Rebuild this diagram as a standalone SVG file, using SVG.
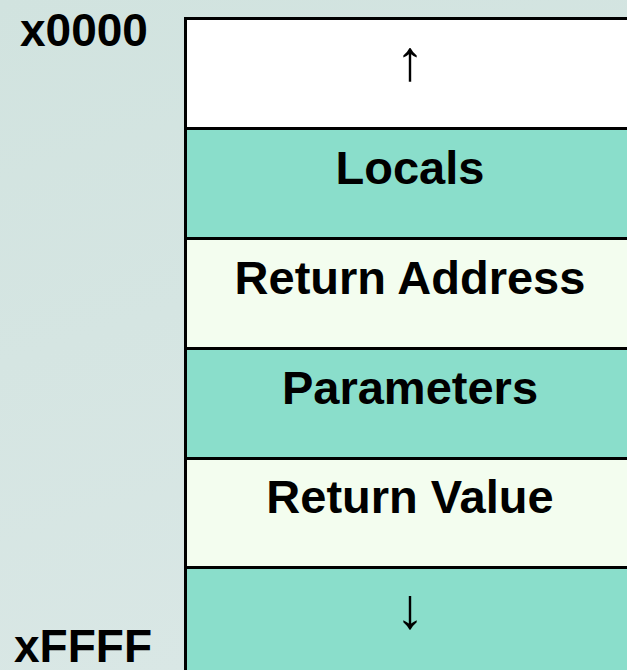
<svg xmlns="http://www.w3.org/2000/svg" width="627" height="670" viewBox="0 0 627 670">
  <defs>
    <linearGradient id="bg" x1="0" y1="0" x2="0.3" y2="1">
      <stop offset="0" stop-color="#d1e3df"/>
      <stop offset="1" stop-color="#d9e7e5"/>
    </linearGradient>
  </defs>
  <style>
    .cell { stroke: #000; stroke-width: 3; }
    .teal { fill: #8adecb; }
    .pale { fill: #f3fdef; }
    .white { fill: #ffffff; }
    .lbl { font-family: "Liberation Sans", Arial, sans-serif; font-weight: bold; font-size: 47px; fill: #000; text-anchor: middle; }
    .addr { font-family: "Liberation Sans", Arial, sans-serif; font-weight: bold; font-size: 46px; fill: #000; }
    .arrow { font-family: "Liberation Sans", Arial, sans-serif; font-size: 57px; fill: #000; text-anchor: middle; }
  </style>
  <rect width="627" height="670" fill="url(#bg)"/>

  <g id="addr-top"><text class="addr" x="20" y="46">x0000</text></g>
  <g id="addr-bottom"><text class="addr" x="14" y="662">xFFFF</text></g>

  <g id="free-top">
    <rect class="cell white" x="185.5" y="18.5" width="460" height="110"/>
    <text class="arrow" x="410" y="80">↑</text>
  </g>
  <g id="locals">
    <rect class="cell teal" x="185.5" y="128.5" width="460" height="110"/>
    <text class="lbl" x="410" y="184">Locals</text>
  </g>
  <g id="return-address">
    <rect class="cell pale" x="185.5" y="238.5" width="460" height="110"/>
    <text class="lbl" x="410" y="294">Return Address</text>
  </g>
  <g id="parameters">
    <rect class="cell teal" x="185.5" y="348.5" width="460" height="110"/>
    <text class="lbl" x="410" y="404">Parameters</text>
  </g>
  <g id="return-value">
    <rect class="cell pale" x="185.5" y="458.5" width="460" height="109"/>
    <text class="lbl" x="410" y="513">Return Value</text>
  </g>
  <g id="free-bottom">
    <rect class="cell teal" x="185.5" y="567.5" width="460" height="120"/>
    <text class="arrow" x="410" y="628">↓</text>
  </g>
</svg>
